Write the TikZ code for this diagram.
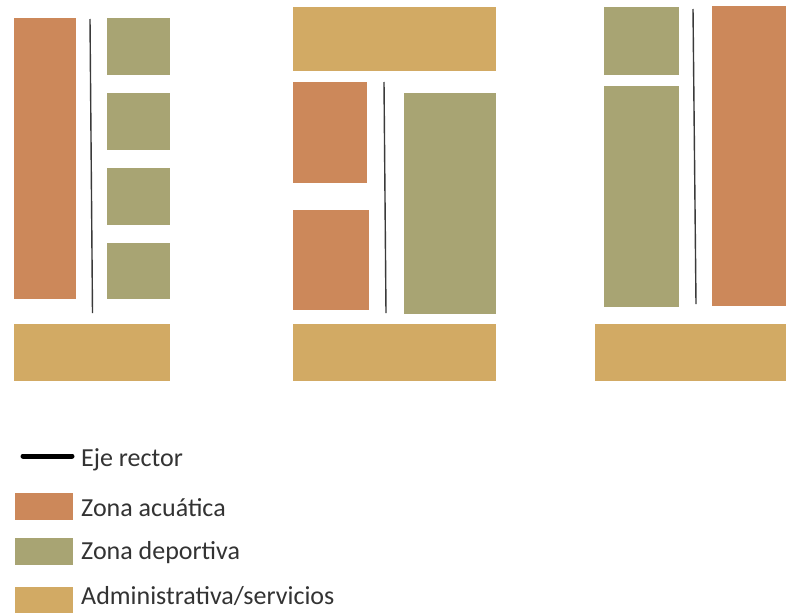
\documentclass[tikz,border=0pt]{standalone}
\usepackage{fontspec}
\setmainfont{Carlito}
\definecolor{acua}{HTML}{CC885A}
\definecolor{depo}{HTML}{A8A473}
\definecolor{admi}{HTML}{D2AA64}
\definecolor{eje}{HTML}{3A3A3A}
\begin{document}
\begin{tikzpicture}[x=1pt,y=-1pt,
  axis/.style={draw=eje, line width=1.4pt},
  legtext/.style={anchor=base west, inner sep=0pt, font=\fontsize{26}{30}\selectfont, text=black!80}]
\useasboundingbox (0,0) rectangle (786,613);
\fill[white] (0,0) rectangle (786,613);
% Panel 1
\fill[acua] (14,18) rectangle (76,299);
\fill[depo] (107,18) rectangle (170,75);
\fill[depo] (107,93) rectangle (170,150);
\fill[depo] (107,168) rectangle (170,225);
\fill[depo] (107,243) rectangle (170,299);
\fill[admi] (14,324) rectangle (170,381);
\coordinate (e1a) at (90,19); \coordinate (e1b) at (92.5,313);
\draw[axis] (e1a) -- (e1b);
% Panel 2
\fill[admi] (293,7) rectangle (496,71);
\fill[acua] (293,82) rectangle (367,183);
\fill[acua] (293,210) rectangle (369,310);
\fill[depo] (404,93) rectangle (496,314);
\fill[admi] (293,324) rectangle (496,381);
\coordinate (e2a) at (384,82); \coordinate (e2b) at (386,313);
\draw[axis] (e2a) -- (e2b);
% Panel 3
\fill[depo] (604,7) rectangle (679,75);
\fill[depo] (604,86) rectangle (679,307);
\fill[acua] (712,6) rectangle (786,306);
\fill[admi] (595,324) rectangle (786,381);
\coordinate (e3a) at (693,9); \coordinate (e3b) at (696,304);
\draw[axis] (e3a) -- (e3b);
% Legend
\coordinate (l1) at (23,456); \coordinate (l2) at (72,456);
\draw[black, line width=5pt, line cap=round] (l1) -- (l2);
\fill[acua] (15,493) rectangle (73,520);
\fill[depo] (15,538) rectangle (73,565);
\fill[admi] (15,587) rectangle (73,613);
\node[legtext] (t1) at (81,466) {Eje rector};
\node[legtext] (t2) at (81,516) {Zona acuática};
\node[legtext] (t3) at (81,559) {Zona deportiva};
\node[legtext] (t4) at (81,604) {Administrativa/servicios};
\end{tikzpicture}
\end{document}
